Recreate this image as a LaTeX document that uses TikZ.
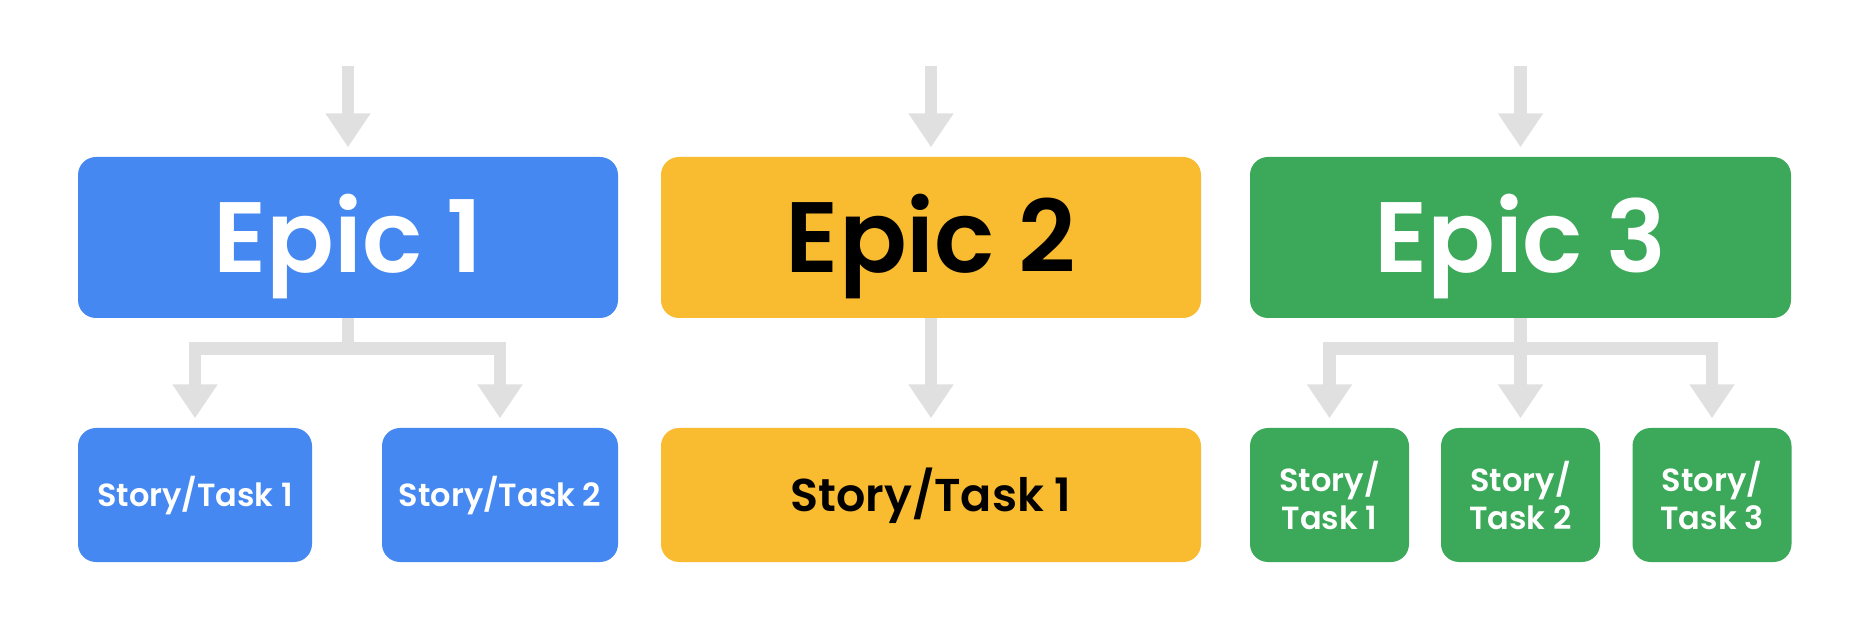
\documentclass[tikz,border=0pt]{standalone}
\usepackage{fontspec}
\setmainfont{Poppins}[BoldFont={Poppins SemiBold}]
\usetikzlibrary{arrows.meta}
\definecolor{gblue}{HTML}{4688F1}
\definecolor{gyellow}{HTML}{F9BB2F}
\definecolor{ggreen}{HTML}{3CA859}
\definecolor{ggray}{HTML}{E0E0E0}
\begin{document}
\begin{tikzpicture}[x=1pt,y=1pt,
  box/.style={rounded corners=18pt, inner sep=0pt, draw=none},
  epic/.style={box, minimum width=540pt, minimum height=161pt,
    font=\fontsize{100}{100}\selectfont\bfseries, text height=70pt, text depth=0pt},
  story/.style={box, minimum height=134pt,
    font=\fontsize{32}{38}\selectfont\bfseries},
  onestory/.style={story, text height=22.4pt, text depth=0pt},
  bigstory/.style={box, minimum height=134pt,
    font=\fontsize{46}{46}\selectfont\bfseries, text height=32pt, text depth=0pt},
  conn/.style={draw=ggray, line width=12.5pt,
    -{Triangle[width=43pt,length=34pt]}, shorten >=9.5pt}
]
\useasboundingbox (0,0) rectangle (1849,624);
% epics
\node[epic, fill=gblue, text=white] (e1) at (348,386.5) {Epic 1};
\node[epic, fill=gyellow, text=black] (e2) at (931,386.5) {Epic 2};
\node[epic, fill=ggreen, text=white, minimum width=541pt] (e3) at (1520.5,386.5) {Epic 3};
% stories
\node[onestory, fill=gblue, text=white, minimum width=234pt] (s11) at (195,129) {Story/Task 1};
\node[onestory, fill=gblue, text=white, minimum width=236pt] (s12) at (500,129) {Story/Task 2};
\node[bigstory, fill=gyellow, text=black, minimum width=540pt] (s21) at (931,129) {Story/Task 1};
\node[story, fill=ggreen, text=white, minimum width=159pt, align=center] (s31) at (1329.5,129) {Story/\\Task 1};
\node[story, fill=ggreen, text=white, minimum width=159pt, align=center] (s32) at (1520.5,129) {Story/\\Task 2};
\node[story, fill=ggreen, text=white, minimum width=159pt, align=center] (s33) at (1712,129) {Story/\\Task 3};
% incoming free ends
\coordinate (t1) at (348,557.5);
\coordinate (t2) at (931,557.5);
\coordinate (t3) at (1520.5,557.5);
\draw[conn] (t1) -- (e1.north);
\draw[conn] (t2) -- (e2.north);
\draw[conn] (t3) -- (e3.north);
% branches
\coordinate (bar) at (0,275.5);
\draw[conn] (e1.south) -- (e1.south |- bar) -| (s11.north);
\draw[conn] (e1.south) -- (e1.south |- bar) -| (s12.north);
\draw[conn] (e2.south) -- (s21.north);
\draw[conn] (e3.south) -- (e3.south |- bar) -| (s31.north);
\draw[conn] (e3.south) -- (s32.north);
\draw[conn] (e3.south) -- (e3.south |- bar) -| (s33.north);
\end{tikzpicture}
\end{document}
